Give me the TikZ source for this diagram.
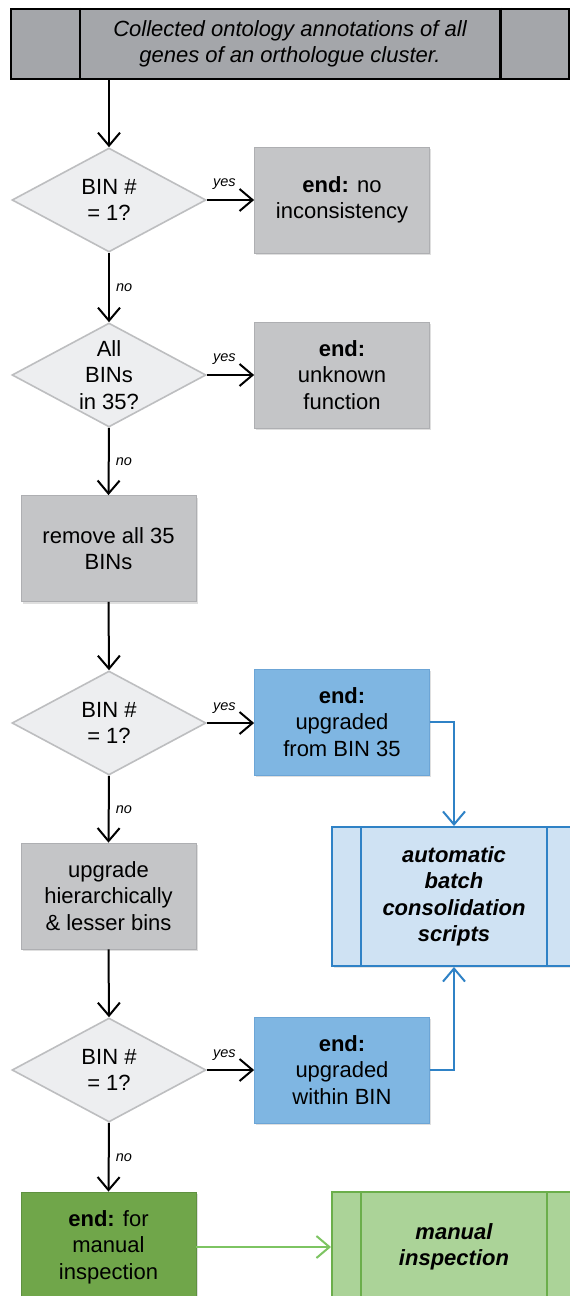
\documentclass[tikz,border=0pt]{standalone}
\usepackage{fontspec}
\setmainfont{Liberation Sans}
\usetikzlibrary{arrows.meta,shapes.geometric,shadows,positioning}

\definecolor{topgray}{HTML}{A4A6AA}
\definecolor{diamfill}{HTML}{EDEEF0}
\definecolor{diamline}{HTML}{BDBEC0}
\definecolor{boxgray}{HTML}{C4C5C7}
\definecolor{boxline}{HTML}{AEAFB2}
\definecolor{endblue}{HTML}{7FB6E2}
\definecolor{endblueline}{HTML}{6CA5D6}
\definecolor{autofill}{HTML}{CFE2F3}
\definecolor{autoline}{HTML}{2F82C6}
\definecolor{endgreen}{HTML}{70A64A}
\definecolor{endgreenline}{HTML}{5F9140}
\definecolor{manfill}{HTML}{ABD398}
\definecolor{manline}{HTML}{6BAE4B}
\definecolor{manarrow}{HTML}{7DC462}

\tikzset{
  txt/.style={align=center, font=\fontsize{22}{26.5}\selectfont, inner sep=2pt},
  process/.style={txt, rectangle, minimum width=175pt, minimum height=106pt,
    draw=boxline, fill=boxgray, line width=0.8pt,
    drop shadow={shadow xshift=1.5pt, shadow yshift=-2pt, opacity=0.25}},
  endbox/.style={process, fill=endblue, draw=endblueline},
  greenbox/.style={process, fill=endgreen, draw=endgreenline, minimum height=110pt},
  decision/.style={diamond, draw=diamline, fill=diamfill, line width=1.6pt,
    minimum width=194pt, minimum height=104pt, inner sep=0pt},
  subproc/.style={txt, rectangle, line width=2pt},
  flow/.style={line width=2pt, -{Straight Barb[length=13pt,width=22pt,line width=2pt]}},
  lbl/.style={font=\fontsize{14.5}{14.5}\selectfont\itshape, inner sep=1pt},
}

\begin{document}
\begin{tikzpicture}[x=1pt,y=-1pt]
  \clip (0,0) rectangle (570,1296);
  \fill[white] (0,0) rectangle (570,1296);

  % start
  \node[subproc, draw=black, line width=2.5pt, fill=topgray, minimum width=558pt, minimum height=70pt,
    font=\fontsize{22}{26.5}\selectfont\itshape] (top) at (290,44)
    {Collected ontology annotations of all\\genes of an orthologue cluster.};
  \draw[line width=2.5pt] ([xshift=70pt]top.north west) -- ([xshift=70pt]top.south west);
  \draw[line width=2.5pt] ([xshift=-70pt]top.north east) -- ([xshift=-70pt]top.south east);

  % decisions
  \node[decision] (d1) at (109,200) {};
  \node[txt] (d1txt) at (d1) {BIN \#\\= 1?};
  \node[decision] (d2) at (109,375) {};
  \node[txt] (d2txt) at (d2) {All\\BINs\\in 35?};
  \node[decision] (d3) at (109,723) {};
  \node[txt] (d3txt) at (d3) {BIN \#\\= 1?};
  \node[decision] (d4) at (109,1070) {};
  \node[txt] (d4txt) at (d4) {BIN \#\\= 1?};

  % ends and steps
  \node[process] (e1) at (342,200) {\textbf{end:} no\\inconsistency};
  \node[process] (e2) at (342,375) {\textbf{end:}\\unknown\\function};
  \node[process] (rm) at (108.5,548.5) {remove all 35\\BINs};
  \node[endbox] (e3) at (342,722) {\textbf{end:}\\upgraded\\from BIN 35};
  \node[process] (up) at (108.5,896) {upgrade\\hierarchically\\\& lesser bins};
  \node[endbox] (e4) at (342,1070) {\textbf{end:}\\upgraded\\within BIN};
  \node[greenbox] (e5) at (108.5,1247) {\textbf{end:} for\\manual\\inspection};

  % sub-processes on the right
  \node[subproc, draw=autoline, fill=autofill, minimum width=244pt, minimum height=139pt,
    font=\fontsize{22}{26.5}\selectfont\bfseries\itshape,
    drop shadow={shadow xshift=1.5pt, shadow yshift=-2pt, opacity=0.2}] (auto) at (454,896.5)
    {automatic\\batch\\consolidation\\scripts};
  \draw[autoline, line width=1.6pt] ([xshift=30pt]auto.north west) -- ([xshift=30pt]auto.south west);
  \draw[autoline, line width=1.6pt] ([xshift=-30pt]auto.north east) -- ([xshift=-30pt]auto.south east);
  \node[subproc, draw=manline, fill=manfill, minimum width=244pt, minimum height=110pt,
    font=\fontsize{22}{26.5}\selectfont\bfseries\itshape] (man) at (454,1247)
    {manual\\inspection};
  \draw[manline, line width=1.6pt] ([xshift=30pt]man.north west) -- ([xshift=30pt]man.south west);
  \draw[manline, line width=1.6pt] ([xshift=-30pt]man.north east) -- ([xshift=-30pt]man.south east);

  % connectors
  \draw[flow] (top.south -| d1.north) -- (d1.north);
  \draw[flow] (d1.east) -- (d1.east -| e1.west) node[lbl, above=8pt, pos=0.37] {yes};
  \draw[flow] (d1.south) -- (d2.north) node[lbl, right=5pt, midway] {no};
  \draw[flow] (d2.east) -- (d2.east -| e2.west) node[lbl, above=8pt, pos=0.37] {yes};
  \draw[flow] (d2.south) -- (rm.north) node[lbl, right=5pt, midway] {no};
  \draw[flow] (rm.south) -- (d3.north);
  \draw[flow] (d3.east) -- (d3.east -| e3.west) node[lbl, above=8pt, pos=0.37] {yes};
  \draw[flow] (d3.south) -- (up.north) node[lbl, right=5pt, midway] {no};
  \draw[flow] (up.south) -- (d4.north);
  \draw[flow] (d4.east) -- (d4.east -| e4.west) node[lbl, above=8pt, pos=0.37] {yes};
  \draw[flow] (d4.south) -- (e5.north) node[lbl, right=5pt, midway] {no};

  \draw[flow, autoline] (e3.east) -| (auto.north);
  \draw[flow, autoline] (e4.east) -| (auto.south);
  \draw[flow, manarrow] (e5.east) -- (man.west);
\end{tikzpicture}
\end{document}
